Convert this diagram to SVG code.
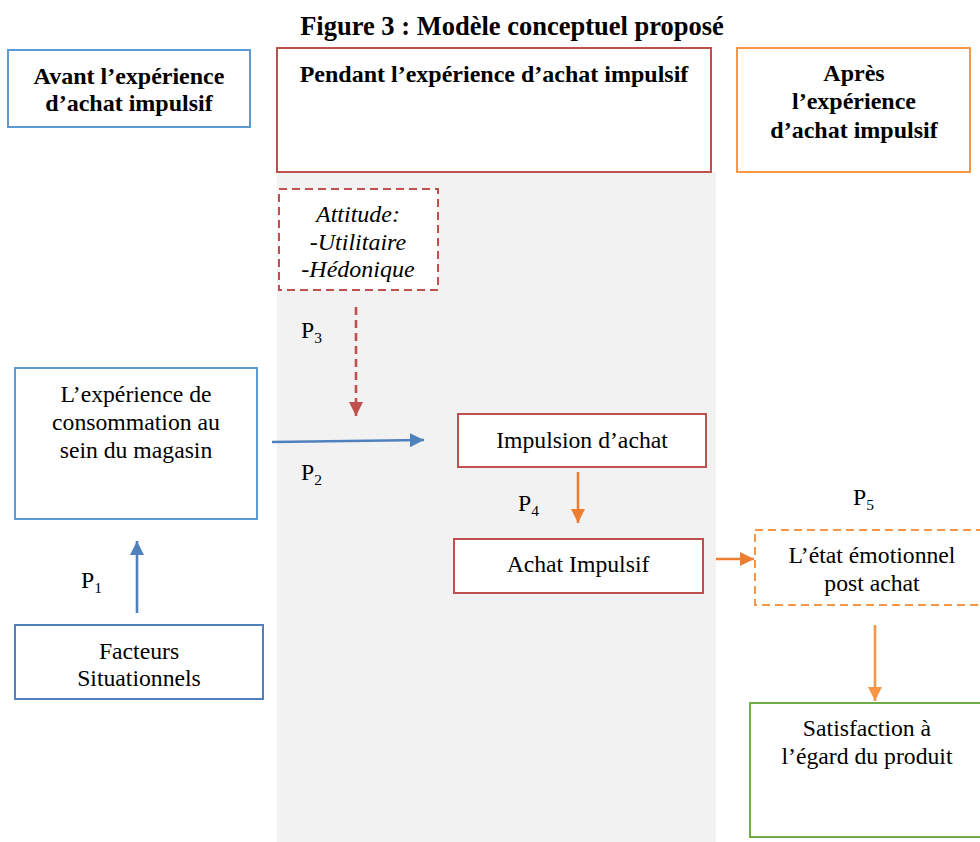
<svg xmlns="http://www.w3.org/2000/svg" width="980" height="842" viewBox="0 0 980 842">
<defs>
<style>
text{font-family:"Liberation Serif","Times New Roman",serif;fill:#000;text-anchor:middle}
.h{font-weight:bold;font-size:24px}
.t{font-size:23.7px}
.i{font-size:24px;font-style:italic}
.p{font-size:23.7px;text-anchor:start}
.s{font-size:15.5px}
.box{fill:#fff;stroke-width:2}
.blue{stroke:#5B9BD5}
.dblue{stroke:#4F81BD}
.red{stroke:#C0504D}
.orange{stroke:#F79646}
.green{stroke:#70AD47}
.dash{stroke-dasharray:8 5}
</style>
<marker id="aBlue" viewBox="0 0 10 10" refX="10" refY="5" markerWidth="5.5" markerHeight="5.5" orient="auto" markerUnits="strokeWidth"><path d="M0,0L10,5L0,10z" fill="#4F81BD"/></marker>
<marker id="aRed" viewBox="0 0 10 10" refX="10" refY="5" markerWidth="5.5" markerHeight="5.5" orient="auto" markerUnits="strokeWidth"><path d="M0,0L10,5L0,10z" fill="#C0504D"/></marker>
<marker id="aOr" viewBox="0 0 10 10" refX="10" refY="5" markerWidth="5.5" markerHeight="5.5" orient="auto" markerUnits="strokeWidth"><path d="M0,0L10,5L0,10z" fill="#ED7D31"/></marker>
<marker id="aOr2" viewBox="0 0 10 10" refX="10" refY="5" markerWidth="5.5" markerHeight="5.5" orient="auto" markerUnits="strokeWidth"><path d="M0,0L10,5L0,10z" fill="#F79646"/></marker>
</defs>
<rect width="980" height="842" fill="#fff"/>
<rect x="277" y="172" width="439" height="670" fill="#F2F2F2"/>
<text x="512" y="35" style="font-weight:bold;font-size:26.5px">Figure 3 : Modèle conceptuel proposé</text>

<g id="avant">
<rect class="box blue" x="8" y="50" width="242" height="77"/>
<text class="h" x="129" y="84">Avant l’expérience</text>
<text class="h" x="129" y="111">d’achat impulsif</text>
</g>
<g id="pendant">
<rect class="box red" x="277" y="48" width="434" height="124"/>
<text class="h" x="494" y="82">Pendant l’expérience d’achat impulsif</text>
</g>
<g id="apres">
<rect class="box orange" x="737" y="48" width="233" height="124"/>
<text class="h" x="854" y="81">Après</text>
<text class="h" x="854" y="109">l’expérience</text>
<text class="h" x="854" y="138">d’achat impulsif</text>
</g>
<g id="attitude">
<rect class="box red dash" x="279" y="189" width="159" height="101"/>
<text class="i" x="358" y="222">Attitude:</text>
<text class="i" x="358" y="250">-Utilitaire</text>
<text class="i" x="358" y="277">-Hédonique</text>
</g>
<g id="experience">
<rect class="box blue" x="15" y="368" width="242" height="151"/>
<text class="t" x="136" y="402">L’expérience de</text>
<text class="t" x="136" y="430">consommation au</text>
<text class="t" x="136" y="458">sein du magasin</text>
</g>
<g id="facteurs">
<rect class="box dblue" x="15" y="625" width="248" height="74"/>
<text class="t" x="139" y="659">Facteurs</text>
<text class="t" x="139" y="686">Situationnels</text>
</g>
<g id="impulsion">
<rect class="box red" x="458" y="414" width="248" height="53"/>
<text class="t" x="582" y="448">Impulsion d’achat</text>
</g>
<g id="achat">
<rect class="box red" x="454" y="539" width="249" height="54"/>
<text class="t" x="578" y="572">Achat Impulsif</text>
</g>
<g id="etat">
<rect class="box orange dash" x="755" y="530" width="230" height="75"/>
<text class="t" x="872" y="563">L’état émotionnel</text>
<text class="t" x="872" y="591">post achat</text>
</g>
<g id="satisfaction">
<rect class="box green" x="750" y="703" width="240" height="134"/>
<text class="t" x="867" y="736">Satisfaction à</text>
<text class="t" x="867" y="764">l’égard du produit</text>
</g>

<g id="connectors" fill="none" stroke-width="2.6">
<line x1="137" y1="613" x2="137" y2="541" stroke="#4F81BD" marker-end="url(#aBlue)"/>
<line x1="272" y1="442" x2="424" y2="440" stroke="#4F81BD" marker-end="url(#aBlue)"/>
<line x1="356" y1="307" x2="356" y2="416" stroke="#C0504D" stroke-dasharray="8 5" marker-end="url(#aRed)"/>
<line x1="578" y1="472" x2="578" y2="523" stroke="#ED7D31" marker-end="url(#aOr)"/>
<line x1="716" y1="559" x2="754" y2="559" stroke="#ED7D31" marker-end="url(#aOr)"/>
<line x1="875" y1="625" x2="875" y2="701" stroke="#F79646" marker-end="url(#aOr2)"/>
</g>

<g id="labels">
<text class="p" x="81" y="588">P<tspan class="s" dy="5">1</tspan></text>
<text class="p" x="301" y="480">P<tspan class="s" dy="5">2</tspan></text>
<text class="p" x="301" y="338">P<tspan class="s" dy="5">3</tspan></text>
<text class="p" x="518" y="511">P<tspan class="s" dy="5">4</tspan></text>
<text class="p" x="853" y="505">P<tspan class="s" dy="5">5</tspan></text>
</g>
</svg>
